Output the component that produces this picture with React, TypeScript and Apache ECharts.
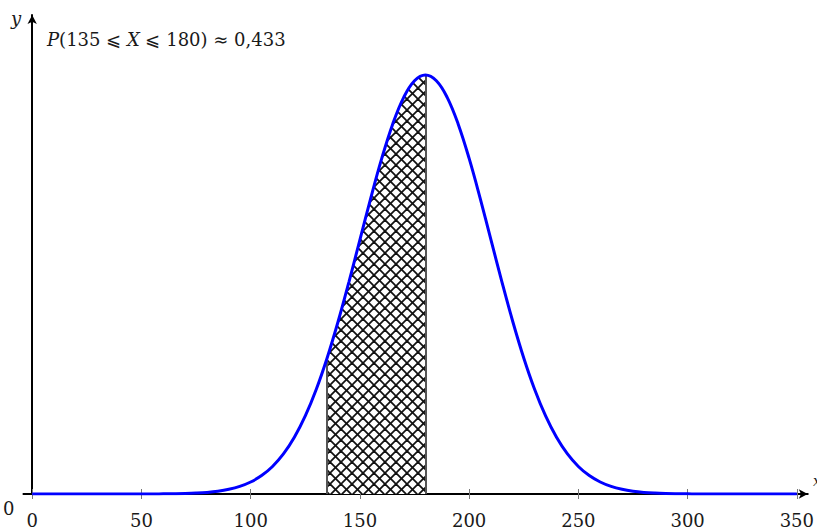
import React, { useEffect, useRef } from "react";
import * as echarts from "echarts";

// x values (step 5) and density values (×10⁻³)
const xValues: number[] = [
  0, 5, 10, 15, 20, 25, 30, 35, 40, 45, 50, 55, 60, 65, 70, 75, 80, 85, 90, 95,
  100, 105, 110, 115, 120, 125, 130, 135, 140, 145, 150, 155, 160, 165, 170, 175,
  180, 185, 190, 195, 200, 205, 210, 215, 220, 225, 230, 235, 240, 245, 250, 255,
  260, 265, 270, 275, 280, 285, 290, 295, 300, 305, 310, 315, 320, 325, 330, 335,
  340, 345, 350,
];
const densityValues: number[] = [
  0, 0, 0, 0, 0, 0, 0, 0, 0, 0, 0, 0, 0.005, 0.009, 0.016, 0.029, 0.051, 0.088, 0.148, 0.24,
  0.38, 0.584, 0.874, 1.271, 1.8, 2.476, 3.317, 4.318, 5.467, 6.733, 8.066, 9.397, 10.648, 11.736, 12.58, 13.115,
  13.298, 13.115, 12.58, 11.736, 10.648, 9.397, 8.066, 6.733, 5.467, 4.318, 3.317, 2.476, 1.8, 1.271, 0.874, 0.584,
  0.38, 0.24, 0.148, 0.088, 0.051, 0.029, 0.016, 0.009, 0.005, 0, 0, 0, 0, 0, 0, 0,
  0, 0, 0,
];
const shadeFrom = 135;
const shadeTo = 180;
const xTickLabels: number[] = [0, 50, 100, 150, 200, 250, 300, 350];
const yTickLabels: number[] = [0];

function makeHatch(): HTMLCanvasElement {
  const n = 11;
  const c = document.createElement("canvas");
  c.width = n;
  c.height = n;
  const g = c.getContext("2d")!;
  g.fillStyle = "#ffffff";
  g.fillRect(0, 0, n, n);
  g.strokeStyle = "#111";
  g.lineWidth = 1.8;
  const segs = [
    [-1, -1, n + 1, n + 1],
    [-1, n + 1, n + 1, -1],
  ];
  for (const dx of [-n, 0, n]) {
    for (const s of segs) {
      g.beginPath();
      g.moveTo(s[0] + dx, s[1]);
      g.lineTo(s[2] + dx, s[3]);
      g.stroke();
    }
  }
  return c;
}

export default function App() {
  const ref = useRef<HTMLDivElement>(null);
  useEffect(() => {
    document.body.style.margin = "0";
    const chart = echarts.init(ref.current!, null, { renderer: "svg" });
    const curve = xValues.map((x, i) => [x, densityValues[i]]);
    const shaded = curve.filter((p) => p[0] >= shadeFrom && p[0] <= shadeTo);
    const yAt = (x: number) => densityValues[xValues.indexOf(x)];
    const serif = "DejaVu Serif";
    chart.setOption({
      animation: false,
      grid: { left: 22.2, right: 2.9, top: 15, bottom: 35 },
      xAxis: [
        {
          type: "value",
          min: -4,
          max: 355,
          axisLine: {
            onZero: false,
            lineStyle: { color: "#000", width: 2 },
            symbol: ["none", "arrow"],
            symbolSize: [7, 9],
          },
          axisTick: {
            show: true,
            length: 5,
            customValues: xTickLabels,
            lineStyle: { color: "#777", width: 1 },
          },
          axisLabel: {
            customValues: xTickLabels,
            margin: 17,
            fontFamily: serif,
            fontSize: 18,
            color: "#1a1a1a",
          },
          splitLine: { show: false },
        },
        {
          type: "value",
          min: -4,
          max: 355,
          position: "bottom",
          axisLine: { show: false },
          axisTick: {
            show: true,
            inside: true,
            length: 5,
            customValues: xTickLabels,
            lineStyle: { color: "#777", width: 1 },
          },
          axisLabel: { show: false },
          splitLine: { show: false },
        },
      ],
      yAxis: {
        type: "value",
        min: 0,
        max: 15.2,
        axisLine: {
          show: true,
          onZero: true,
          lineStyle: { color: "#000", width: 2 },
          symbol: ["none", "arrow"],
          symbolSize: [7, 9],
        },
        axisTick: { show: false },
        axisLabel: {
          customValues: yTickLabels,
          margin: 9,
          fontFamily: serif,
          fontSize: 18,
          color: "#1a1a1a",
          verticalAlign: "top",
          lineHeight: 18,
          padding: [5, 0, 0, 0],
        },
        splitLine: { show: false },
      },
      series: [
        {
          type: "line",
          data: shaded,
          smooth: 0.4,
          showSymbol: false,
          lineStyle: { width: 0, opacity: 0 },
          areaStyle: {
            color: { image: makeHatch(), repeat: "repeat" },
            opacity: 1,
          },
          z: 2,
          markLine: {
            silent: true,
            symbol: ["none", "none"],
            label: { show: false },
            lineStyle: { color: "#555", width: 2, type: "solid" },
            data: [
              [{ coord: [shadeFrom, 0] }, { coord: [shadeFrom, yAt(shadeFrom)] }],
              [{ coord: [shadeTo, 0] }, { coord: [shadeTo, yAt(shadeTo)] }],
            ],
          },
        },
        {
          type: "line",
          data: curve,
          smooth: 0.4,
          showSymbol: false,
          lineStyle: { color: "#0000ff", width: 3 },
          z: 5,
        },
      ],
      graphic: [
        {
          type: "text",
          left: 47,
          top: 30,
          style: {
            text: "{i|P}(135 ⩽ {i|X} ⩽ 180) ≈ 0,433",
            font: `18px ${serif}`,
            fill: "#1a1a1a",
            rich: {
              i: { fontStyle: "italic", fontFamily: serif, fontSize: 18, fill: "#1a1a1a" },
            },
          },
        },
        {
          type: "text",
          left: 11,
          top: 9,
          style: { text: "y", font: `italic 18px ${serif}`, fill: "#1a1a1a" },
        },
        {
          type: "text",
          left: 813,
          top: 474,
          style: { text: "x", font: `italic 14px ${serif}`, fill: "#1a1a1a" },
        },
      ],
    });
    return () => chart.dispose();
  }, []);
  return <div ref={ref} style={{ width: 817, height: 529 }} />;
}
